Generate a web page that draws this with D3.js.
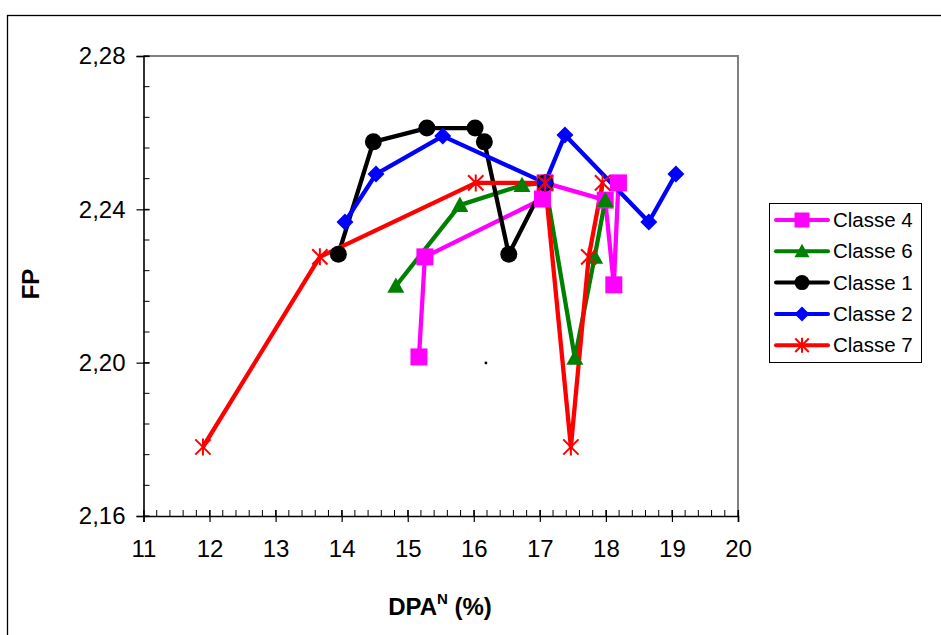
<!DOCTYPE html>
<html>
<head>
<meta charset="utf-8">
<script src="https://cdn.jsdelivr.net/npm/d3@7"></script>
<style>
  html, body { margin: 0; padding: 0; background: #fff; }
  svg { display: block; font-family: "Liberation Sans", Arial, sans-serif; }
</style>
</head>
<body>
<svg id="chart" width="941" height="635"></svg>
<script>
// Series values: DPA^N (%) on x, FP on y
const seriesNames = ["Classe 4", "Classe 6", "Classe 1", "Classe 2", "Classe 7"];
const seriesColors = ["#ff00ff", "#008000", "#000000", "#0000ff", "#ff0000"];
const seriesSymbols = ["square", "triangle", "circle", "diamond", "asterisk"];

const classe4X = [15.17, 15.26, 17.04, 17.08, 17.99, 18.12, 18.19];
const classe4Y = [2.2015, 2.2276, 2.2427, 2.2469, 2.2424, 2.2203, 2.2469];

const classe6X = [14.82, 15.79, 16.73, 17.08, 17.53, 17.83, 17.99];
const classe6Y = [2.2200, 2.2411, 2.2463, 2.2469, 2.2012, 2.2276, 2.2424];

const classe1X = [13.95, 14.48, 15.29, 16.02, 16.16, 16.53, 17.08];
const classe1Y = [2.2283, 2.2576, 2.2612, 2.2612, 2.2576, 2.2283, 2.2469];

const classe2X = [14.05, 14.52, 15.53, 17.08, 17.38, 18.65, 19.06];
const classe2Y = [2.2367, 2.2492, 2.2591, 2.2469, 2.2594, 2.2367, 2.2492];

const classe7X = [11.90, 13.67, 16.03, 17.08, 17.47, 17.74, 17.95];
const classe7Y = [2.1780, 2.2276, 2.2469, 2.2469, 2.1780, 2.2276, 2.2469];

// a lone dot plotted in the chart area
const strayX = [16.18];
const strayY = [2.2000];

const xTicks = [11, 12, 13, 14, 15, 16, 17, 18, 19, 20];
const yTicks = [2.16, 2.20, 2.24, 2.28];
const yTickLabels = ["2,16", "2,20", "2,24", "2,28"];

const allX = [classe4X, classe6X, classe1X, classe2X, classe7X];
const allY = [classe4Y, classe6Y, classe1Y, classe2Y, classe7Y];
const series = seriesNames.map((name, i) => ({
  name,
  color: seriesColors[i],
  symbol: seriesSymbols[i],
  points: allX[i].map((xv, j) => ({ x: xv, y: allY[i][j] }))
}));

const svg = d3.select("#chart");

// outer chart frame (continues past the right and bottom edges)
svg.append("rect")
  .attr("x", 7.5).attr("y", 15.5)
  .attr("width", 1200).attr("height", 1200)
  .attr("fill", "none").attr("stroke", "#000").attr("stroke-width", 1.3);

const plotL = 143.5, plotR = 738, plotT = 56, plotB = 516;
const x = d3.scaleLinear().domain([11, 20]).range([plotL, plotR]);
const y = d3.scaleLinear().domain([2.16, 2.28]).range([plotB, plotT]);

// grey plot-area border (top and right)
svg.append("path")
  .attr("d", `M${plotL},${plotT}H${plotR}V${plotB}`)
  .attr("fill", "none").attr("stroke", "#808080").attr("stroke-width", 2);

// minor ticks (inside) on both axes
const xMinor = d3.range(11, 20.0001, 0.2);
const yMinor = d3.range(2.16, 2.2801, 0.008);
svg.append("g").selectAll("line").data(xMinor).join("line")
  .attr("x1", d => x(d)).attr("x2", d => x(d))
  .attr("y1", plotB).attr("y2", plotB - 6)
  .attr("stroke", "#000").attr("stroke-width", 1);
svg.append("g").selectAll("line").data(yMinor).join("line")
  .attr("y1", d => y(d)).attr("y2", d => y(d))
  .attr("x1", plotL).attr("x2", plotL + 6)
  .attr("stroke", "#000").attr("stroke-width", 1);

// x axis: major ticks cross the axis line
const xAxis = d3.axisBottom(x).tickValues(xTicks).tickSize(6).tickPadding(18)
  .tickFormat(d3.format("d"));
const gx = svg.append("g").attr("transform", `translate(0,${plotB})`).call(xAxis);
gx.select(".domain").attr("stroke", "#000").attr("stroke-width", 1.6);
gx.selectAll(".tick line").attr("y1", -6).attr("stroke", "#000").attr("stroke-width", 1.2);
gx.selectAll(".tick text").attr("font-size", 24).attr("fill", "#000")
  .attr("font-family", "Liberation Sans, Arial, sans-serif");

const yAxis = d3.axisLeft(y).tickValues(yTicks).tickSize(7).tickPadding(11)
  .tickFormat((d, i) => yTickLabels[i]);
const gy = svg.append("g").attr("transform", `translate(${plotL},0)`).call(yAxis);
gy.select(".domain").attr("stroke", "#000").attr("stroke-width", 1.6);
gy.selectAll(".tick line").attr("x1", 6).attr("stroke", "#000").attr("stroke-width", 1.2);
gy.selectAll(".tick text").attr("font-size", 24).attr("fill", "#000")
  .attr("font-family", "Liberation Sans, Arial, sans-serif");

// axis titles
const xt = svg.append("text")
  .attr("x", 440).attr("y", 615)
  .attr("text-anchor", "middle")
  .attr("font-size", 24).attr("font-weight", "bold");
xt.append("tspan").text("DPA");
xt.append("tspan").attr("font-size", 15).attr("dy", -11).text("N");
xt.append("tspan").attr("dy", 11).text(" (%)");

svg.append("text")
  .attr("transform", "translate(39,284) rotate(-90)")
  .attr("text-anchor", "middle")
  .attr("font-size", 24).attr("font-weight", "bold")
  .text("FP");

// marker shapes
function drawMarker(g, symbol, color, cx, cy, s) {
  const h = s / 2;
  if (symbol === "square") {
    g.append("rect").attr("x", cx - h).attr("y", cy - h)
      .attr("width", s).attr("height", s).attr("fill", color);
  } else if (symbol === "circle") {
    g.append("circle").attr("cx", cx).attr("cy", cy).attr("r", h).attr("fill", color);
  } else if (symbol === "diamond") {
    g.append("path")
      .attr("d", `M${cx},${cy - h}L${cx + h},${cy}L${cx},${cy + h}L${cx - h},${cy}Z`)
      .attr("fill", color);
  } else if (symbol === "triangle") {
    g.append("path")
      .attr("d", `M${cx},${cy - h}L${cx + h},${cy + h * 0.8}L${cx - h},${cy + h * 0.8}Z`)
      .attr("fill", color);
  } else if (symbol === "asterisk") {
    const a = h * 0.9;
    g.append("path")
      .attr("d", `M${cx - a},${cy - a}L${cx + a},${cy + a}M${cx + a},${cy - a}L${cx - a},${cy + a}M${cx},${cy - h}L${cx},${cy + h}`)
      .attr("stroke", color).attr("stroke-width", 2).attr("fill", "none");
  }
}

const line = d3.line().x(d => x(d.x)).y(d => y(d.y));

// all series lines first, then markers on top
const linesG = svg.append("g");
series.forEach(s => {
  linesG.append("path").datum(s.points)
    .attr("d", line)
    .attr("fill", "none").attr("stroke", s.color)
    .attr("stroke-width", 4.3).attr("stroke-linejoin", "round");
});
const markersG = svg.append("g");
series.forEach(s => {
  s.points.forEach(p => drawMarker(markersG, s.symbol, s.color, x(p.x), y(p.y), 17));
});

// lone dot
svg.append("g").selectAll("rect").data(strayX).join("rect")
  .attr("x", d => x(d) - 1).attr("y", (d, i) => y(strayY[i]) - 1)
  .attr("width", 2.5).attr("height", 2.5).attr("fill", "#000");

// legend
const lg = svg.append("g");
lg.append("rect")
  .attr("x", 769.5).attr("y", 203.5).attr("width", 152).attr("height", 159)
  .attr("fill", "#fff").attr("stroke", "#000").attr("stroke-width", 1);
series.forEach((s, i) => {
  const cy = 220 + i * 31.3;
  lg.append("line").attr("x1", 776).attr("x2", 828).attr("y1", cy).attr("y2", cy)
    .attr("stroke", s.color).attr("stroke-width", 4).attr("stroke-linecap", "round");
  drawMarker(lg, s.symbol, s.color, 802, cy, 15);
  lg.append("text").attr("x", 833).attr("y", cy + 7)
    .attr("font-size", 20.5).attr("fill", "#000").text(s.name);
});
</script>
</body>
</html>
